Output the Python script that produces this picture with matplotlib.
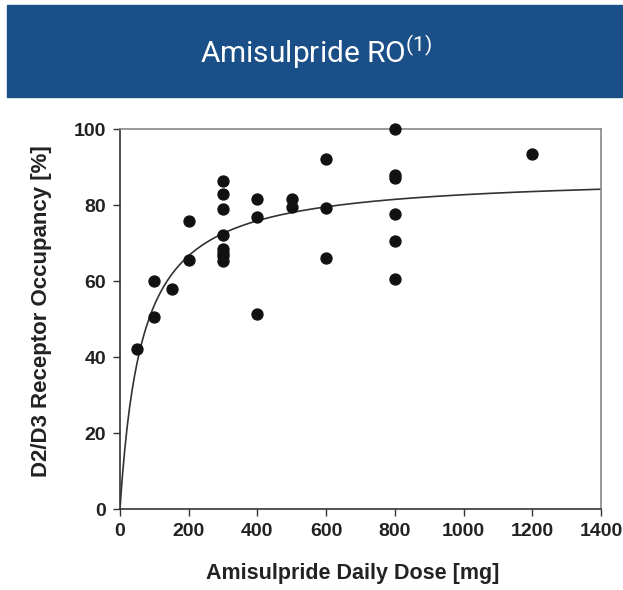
import numpy as np
import matplotlib
matplotlib.use('Agg')
import matplotlib.pyplot as plt
from matplotlib.patches import Rectangle

plt.rcParams['font.family'] = ['Liberation Sans', 'DejaVu Sans']
plt.rcParams['mathtext.default'] = 'regular'

# observed occupancy per daily dose
dose = [50, 100, 100, 150, 200, 200,
        300, 300, 300, 300, 300, 300, 300, 300,
        400, 400, 400, 500, 500,
        600, 600, 600,
        800, 800, 800, 800, 800, 800, 1200]
occupancy = [42, 50.6, 60, 57.8, 75.9, 65.5,
             86.3, 82.9, 78.9, 72, 68.5, 67.5, 66.5, 65.3,
             81.6, 76.9, 51.3, 81.6, 79.5,
             92, 79.3, 66,
             100, 87.8, 87.2, 77.6, 70.4, 60.6, 93.3]

# Emax fit shown as the solid curve
emax = 88.0
ed50 = 64.0

x_ticks = [0, 200, 400, 600, 800, 1000, 1200, 1400]
y_ticks = [0, 20, 40, 60, 80, 100]

fig = plt.figure(figsize=(6.23, 5.90), dpi=100)

# title banner
fig.patches.append(Rectangle((7/623, 1 - 97/590), 616/623, 92/590,
                             transform=fig.transFigure, color='#1b4f88', zorder=0))
fig.text(316/623, 1 - 52/590, 'Amisulpride RO$^{(1)}$', color='white',
         fontsize=21.5, family=['Roboto', 'DejaVu Sans'], ha='center', va='center')

ax = fig.add_axes([120/623, 81/590, 481/623, 380/590])

xs = np.linspace(0, 1400, 400)
ax.plot(xs, emax * xs / (ed50 + xs), color='#333333', lw=1.2, zorder=2)
ax.scatter(dose, occupancy, s=62, color='#111111', zorder=3, clip_on=False)

ax.set_xlim(0, 1400)
ax.set_ylim(0, 100)
ax.set_xticks(x_ticks)
ax.set_yticks(y_ticks)
for s in ax.spines.values():
    s.set_color('#888888')
    s.set_linewidth(1.2)
ax.spines['left'].set_color('#333333')
ax.spines['bottom'].set_color('#333333')
ax.tick_params(direction='out', length=5, width=1, colors='#333333',
               labelsize=14, labelcolor='#222222', pad=5)
for lbl in ax.get_xticklabels() + ax.get_yticklabels():
    lbl.set_fontweight('bold')

ax.set_xlabel('Amisulpride Daily Dose [mg]', fontsize=15.5, fontweight='bold',
              color='#222222', va='center')
ax.set_ylabel('D2/D3 Receptor Occupancy [%]', fontsize=16, fontweight='bold',
              color='#222222', va='center')
ax.xaxis.set_label_coords(0.484, -0.171)
ax.yaxis.set_label_coords(-0.164, 0.52)

fig.savefig('out.png', dpi=100)
